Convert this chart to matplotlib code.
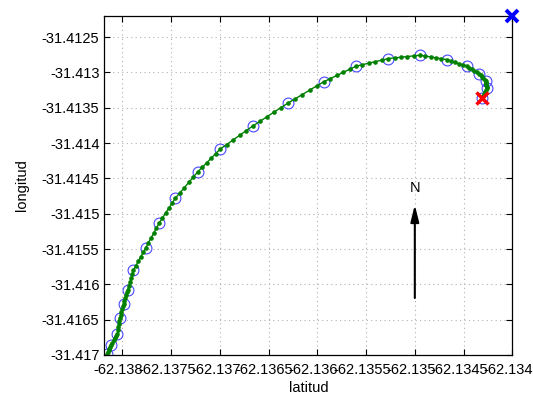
import matplotlib
matplotlib.use('Agg')
import matplotlib.pyplot as plt
import matplotlib.transforms as mtrans

plt.rcParams['font.family'] = ['Liberation Sans', 'DejaVu Sans']

# track points (green dots); every 5th one is also marked with a circle
track_lat = [
    -62.138157, -62.138149, -62.138141, -62.138132, -62.138124,
    -62.138116, -62.138103, -62.138090, -62.138077, -62.138064,
    -62.138051, -62.138046, -62.138040, -62.138035, -62.138029,
    -62.138024, -62.138016, -62.138009, -62.138001, -62.137994,
    -62.137986, -62.137978, -62.137970, -62.137961, -62.137953,
    -62.137945, -62.137933, -62.137922, -62.137910, -62.137899,
    -62.137887, -62.137862, -62.137836, -62.137811, -62.137785,
    -62.137760, -62.137733, -62.137706, -62.137678, -62.137651,
    -62.137624, -62.137590, -62.137557, -62.137523, -62.137490,
    -62.137456, -62.137410, -62.137364, -62.137319, -62.137273,
    -62.137227, -62.137181, -62.137135, -62.137090, -62.137044,
    -62.136998, -62.136930, -62.136863, -62.136795, -62.136728,
    -62.136660, -62.136589, -62.136518, -62.136446, -62.136375,
    -62.136304, -62.136229, -62.136155, -62.136080, -62.136006,
    -62.135931, -62.135865, -62.135800, -62.135734, -62.135669,
    -62.135603, -62.135537, -62.135471, -62.135404, -62.135338,
    -62.135272, -62.135207, -62.135142, -62.135077, -62.135012,
    -62.134947, -62.134892, -62.134837, -62.134783, -62.134728,
    -62.134673, -62.134632, -62.134591, -62.134550, -62.134509,
    -62.134468, -62.134442, -62.134416, -62.134391, -62.134365,
    -62.134339, -62.134325, -62.134311, -62.134298, -62.134284,
    -62.134270, -62.134269, -62.134267, -62.134266, -62.134264,
    -62.134263, -62.134273, -62.134283, -62.134294, -62.134304,
    -62.134314,
]
track_lon = [
    -31.416986, -31.416960, -31.416935, -31.416909, -31.416884,
    -31.416858, -31.416826, -31.416794, -31.416762, -31.416730,
    -31.416698, -31.416653, -31.416608, -31.416562, -31.416517,
    -31.416472, -31.416432, -31.416392, -31.416353, -31.416313,
    -31.416273, -31.416233, -31.416194, -31.416154, -31.416115,
    -31.416075, -31.416020, -31.415965, -31.415910, -31.415855,
    -31.415800, -31.415737, -31.415674, -31.415610, -31.415547,
    -31.415484, -31.415414, -31.415344, -31.415275, -31.415205,
    -31.415135, -31.415064, -31.414993, -31.414922, -31.414851,
    -31.414780, -31.414706, -31.414631, -31.414557, -31.414482,
    -31.414408, -31.414344, -31.414279, -31.414215, -31.414150,
    -31.414086, -31.414020, -31.413954, -31.413888, -31.413822,
    -31.413756, -31.413692, -31.413628, -31.413563, -31.413499,
    -31.413435, -31.413374, -31.413313, -31.413251, -31.413190,
    -31.413129, -31.413085, -31.413042, -31.412998, -31.412955,
    -31.412911, -31.412889, -31.412868, -31.412846, -31.412825,
    -31.412803, -31.412793, -31.412784, -31.412774, -31.412765,
    -31.412755, -31.412767, -31.412780, -31.412792, -31.412804,
    -31.412817, -31.412836, -31.412855, -31.412873, -31.412892,
    -31.412911, -31.412933, -31.412955, -31.412976, -31.412998,
    -31.413020, -31.413041, -31.413061, -31.413082, -31.413102,
    -31.413123, -31.413143, -31.413163, -31.413182, -31.413202,
    -31.413222, -31.413250, -31.413279, -31.413307, -31.413336,
    -31.413364,
]

# end point (red) and reference point (blue)
end_lat, end_lon = -62.134311, -31.413364
ref_lat, ref_lon = -62.134000, -31.412198

x_ticks = [-62.138, -62.1375, -62.137, -62.1365, -62.136, -62.1355,
           -62.135, -62.1345, -62.134]
x_labels = ['-62.138', '-62.1375', '-62.137', '-62.1365', '-62.136',
            '-62.1355', '-62.135', '-62.1345', '-62.134']
y_ticks = [-31.417, -31.4165, -31.416, -31.4155, -31.415, -31.4145,
           -31.414, -31.4135, -31.413, -31.4125]
y_labels = ['-31.417', '-31.4165', '-31.416', '-31.4155', '-31.415',
            '-31.4145', '-31.414', '-31.4135', '-31.413', '-31.4125']

fig = plt.figure(figsize=(5.33, 3.97), dpi=100)
ax = fig.add_axes([0.1957, 0.1058, 0.7655, 0.8539])

ax.plot(track_lat[::5], track_lon[::5], 'o', mfc='none', mec='#4848ff',
        ms=7.8, mew=0.8)
ax.plot(track_lat, track_lon, '-', color='#008000', lw=1.0,
        marker='o', ms=2.3, mfc='#008000', mec='#008000')
ax.plot(end_lat, end_lon, 'x', color='red', ms=8.5, mew=2.5)
ax.plot(ref_lat, ref_lon, 'x', color='#0000ff', ms=9, mew=2.8, clip_on=False,
        zorder=5)

# north arrow
ax.annotate('', xy=(-62.135, -31.414875), xytext=(-62.135, -31.416193),
            arrowprops=dict(arrowstyle='-|>,head_width=0.25,head_length=1.0',
                            color='k', lw=1.5, shrinkA=0, shrinkB=0))
ax.text(-62.135, -31.414635, 'N', ha='center', va='center', fontsize=10.5)

ax.set_xlim(-62.1381846, -62.134)
ax.set_ylim(-31.417, -31.4122)
ax.set_xticks(x_ticks)
ax.set_xticklabels(x_labels)
ax.set_yticks(y_ticks)
ax.set_yticklabels(y_labels)
ax.tick_params(direction='in', top=True, right=True, length=4, labelsize=10.5,
               width=0.8)
ax.tick_params(axis='x', pad=6)
ax.grid(True, color='#b0b0b0', linestyle=(0, (1, 3)), lw=0.8)
for s in ax.spines.values():
    s.set_linewidth(0.9)

# x tick labels sit a little left of their ticks in the original
shift = mtrans.ScaledTranslation(-4 / 100, 0, fig.dpi_scale_trans)
for lab in ax.get_xticklabels():
    lab.set_transform(lab.get_transform() + shift)

ax.set_xlabel('latitud', fontsize=10.5, labelpad=3)
ax.set_ylabel('longitud', fontsize=10.5, labelpad=9)

fig.savefig('out.png', dpi=100)
